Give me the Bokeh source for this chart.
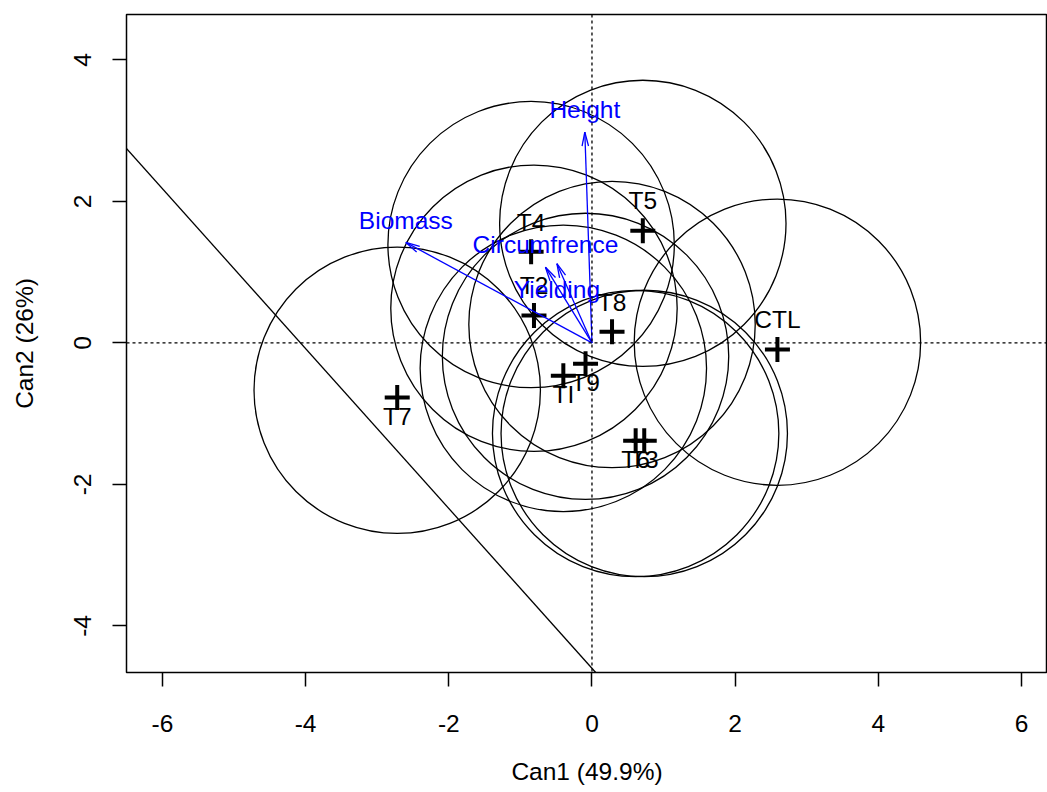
import numpy as np
from bokeh.plotting import figure
from bokeh.models import Range1d, FixedTicker, Slope, Span
from bokeh.core.properties import value
from bokeh.embed import file_html
from bokeh.resources import INLINE

# ---- data -------------------------------------------------------------
groups = ["T7", "T4", "T5", "T2", "T8", "CTL", "TI", "T9", "T6", "T3"]
can1 = [-2.72, -0.85, 0.71, -0.81, 0.28, 2.59, -0.40, -0.09, 0.61, 0.73]
can2 = [-0.67, 1.39, 1.69, 0.49, 0.26, 0.01, -0.36, -0.19, -1.28, -1.28]
circle_radius = 2.0

variables = ["Height", "Biomass", "Circumfrence", "Yielding"]
vec_x = [-0.10, -2.60, -0.65, -0.49]
vec_y = [2.98, 1.42, 1.07, 1.12]
vec_label_pos = ["above", "above", "above", "below"]

line_gradient = -1.13
line_intercept = -4.60

x_ticks = [-6, -4, -2, 0, 2, 4, 6]
x_tick_labels = ["-6", "-4", "-2", "0", "2", "4", "6"]
y_ticks = [-4, -2, 0, 2, 4]
y_tick_labels = ["-4", "-2", "0", "2", "4"]
x_title = "Can1 (49.9%)"
y_title = "Can2 (26%)"

# ---- figure -----------------------------------------------------------
W, H = 1047, 792
BL, BR, BT, BB = 126, 0, 14, 120
X0, X1 = -6.501, 6.362
Y0, Y1 = -4.659, 4.642
FW, FH = W - BL - BR, H - BT - BB
sx = FW / (X1 - X0)
sy = FH / (Y1 - Y0)

FONT = "Liberation Sans"
FS = "24.5px"

p = figure(width=W, height=H, output_backend="svg", toolbar_location=None,
           x_range=Range1d(X0, X1), y_range=Range1d(Y0, Y1),
           min_border_left=BL, min_border_right=BR, min_border_top=BT,
           min_border_bottom=BB)
p.grid.visible = False
p.outline_line_color = "black"
p.outline_line_width = 1.5
p.background_fill_color = "white"
p.border_fill_color = "white"

p.xaxis.ticker = FixedTicker(ticks=x_ticks)
p.yaxis.ticker = FixedTicker(ticks=y_ticks)
p.xaxis.major_label_overrides = dict(zip(x_ticks, x_tick_labels))
p.yaxis.major_label_overrides = dict(zip(y_ticks, y_tick_labels))
p.xaxis.axis_label = x_title
p.yaxis.axis_label = y_title
p.yaxis.major_label_orientation = "vertical"
for ax in (p.xaxis[0], p.yaxis[0]):
    ax.axis_line_color = None
    ax.major_tick_out = 14
    ax.major_tick_in = 0
    ax.major_tick_line_width = 1.5
    ax.minor_tick_line_color = None
    ax.major_label_text_font = FONT
    ax.major_label_text_font_size = FS
    ax.major_label_text_color = "black"
    ax.axis_label_text_font = FONT
    ax.axis_label_text_font_size = FS
    ax.axis_label_text_font_style = "normal"
    ax.axis_label_text_color = "black"
p.xaxis.major_label_standoff = 28
p.xaxis.axis_label_standoff = 23
p.yaxis.major_label_standoff = 21
p.yaxis.axis_label_standoff = 34

# reference lines
p.add_layout(Span(location=0, dimension="width", line_color="black",
                  line_width=1.3, line_dash="3 3"))
p.add_layout(Span(location=0, dimension="height", line_color="black",
                  line_width=1.3, line_dash="3 3"))
p.add_layout(Slope(gradient=line_gradient, y_intercept=line_intercept,
                   line_color="black", line_width=1.3))

# circles around group means
p.circle(x=can1, y=can2, radius=circle_radius, fill_color=None,
         line_color="black", line_width=1.3)

# group means as crosses (drawn slightly lower, as in the reference)
cy = [v - 7.3 / sy for v in can2]
p.scatter(x=can1, y=cy, marker="cross", size=25, line_width=4,
          line_color="black")

# group labels: above if Can2 > 0, else below
UP, DOWN = 22.4, -26.0
gl_y = [v + UP / sy if v > 0 else v + DOWN / sy for v in can2]
p.text(x=can1, y=gl_y, text=groups, text_align="center",
       text_baseline="alphabetic", text_font=value(FONT),
       text_font_size=FS, text_color="black")

# variable vectors
blue = "#0000FF"
zeros = [0] * len(vec_x)
p.segment(x0=zeros, y0=zeros, x1=vec_x, y1=vec_y, line_color=blue,
          line_width=1.3)
vx = np.array(vec_x) * sx
vy = np.array(vec_y) * sy
L = np.hypot(vx, vy)
ux, uy = vx / L, vy / L
head_len = 14.4
for sgn in (1, -1):
    a = np.deg2rad(13) * sgn
    bx = -(ux * np.cos(a) - uy * np.sin(a))
    by = -(ux * np.sin(a) + uy * np.cos(a))
    hx = np.array(vec_x) + bx * head_len / sx
    hy = np.array(vec_y) + by * head_len / sy
    p.segment(x0=vec_x, y0=vec_y, x1=list(hx), y1=list(hy),
              line_color=blue, line_width=1.3)

vl_y = [v + UP / sy if pos == "above" else v + DOWN / sy
        for v, pos in zip(vec_y, vec_label_pos)]
p.text(x=vec_x, y=vl_y, text=variables, text_align="center",
       text_baseline="alphabetic", text_font=value(FONT),
       text_font_size=FS, text_color=blue)

open("out.html", "w").write(file_html(p, INLINE))
